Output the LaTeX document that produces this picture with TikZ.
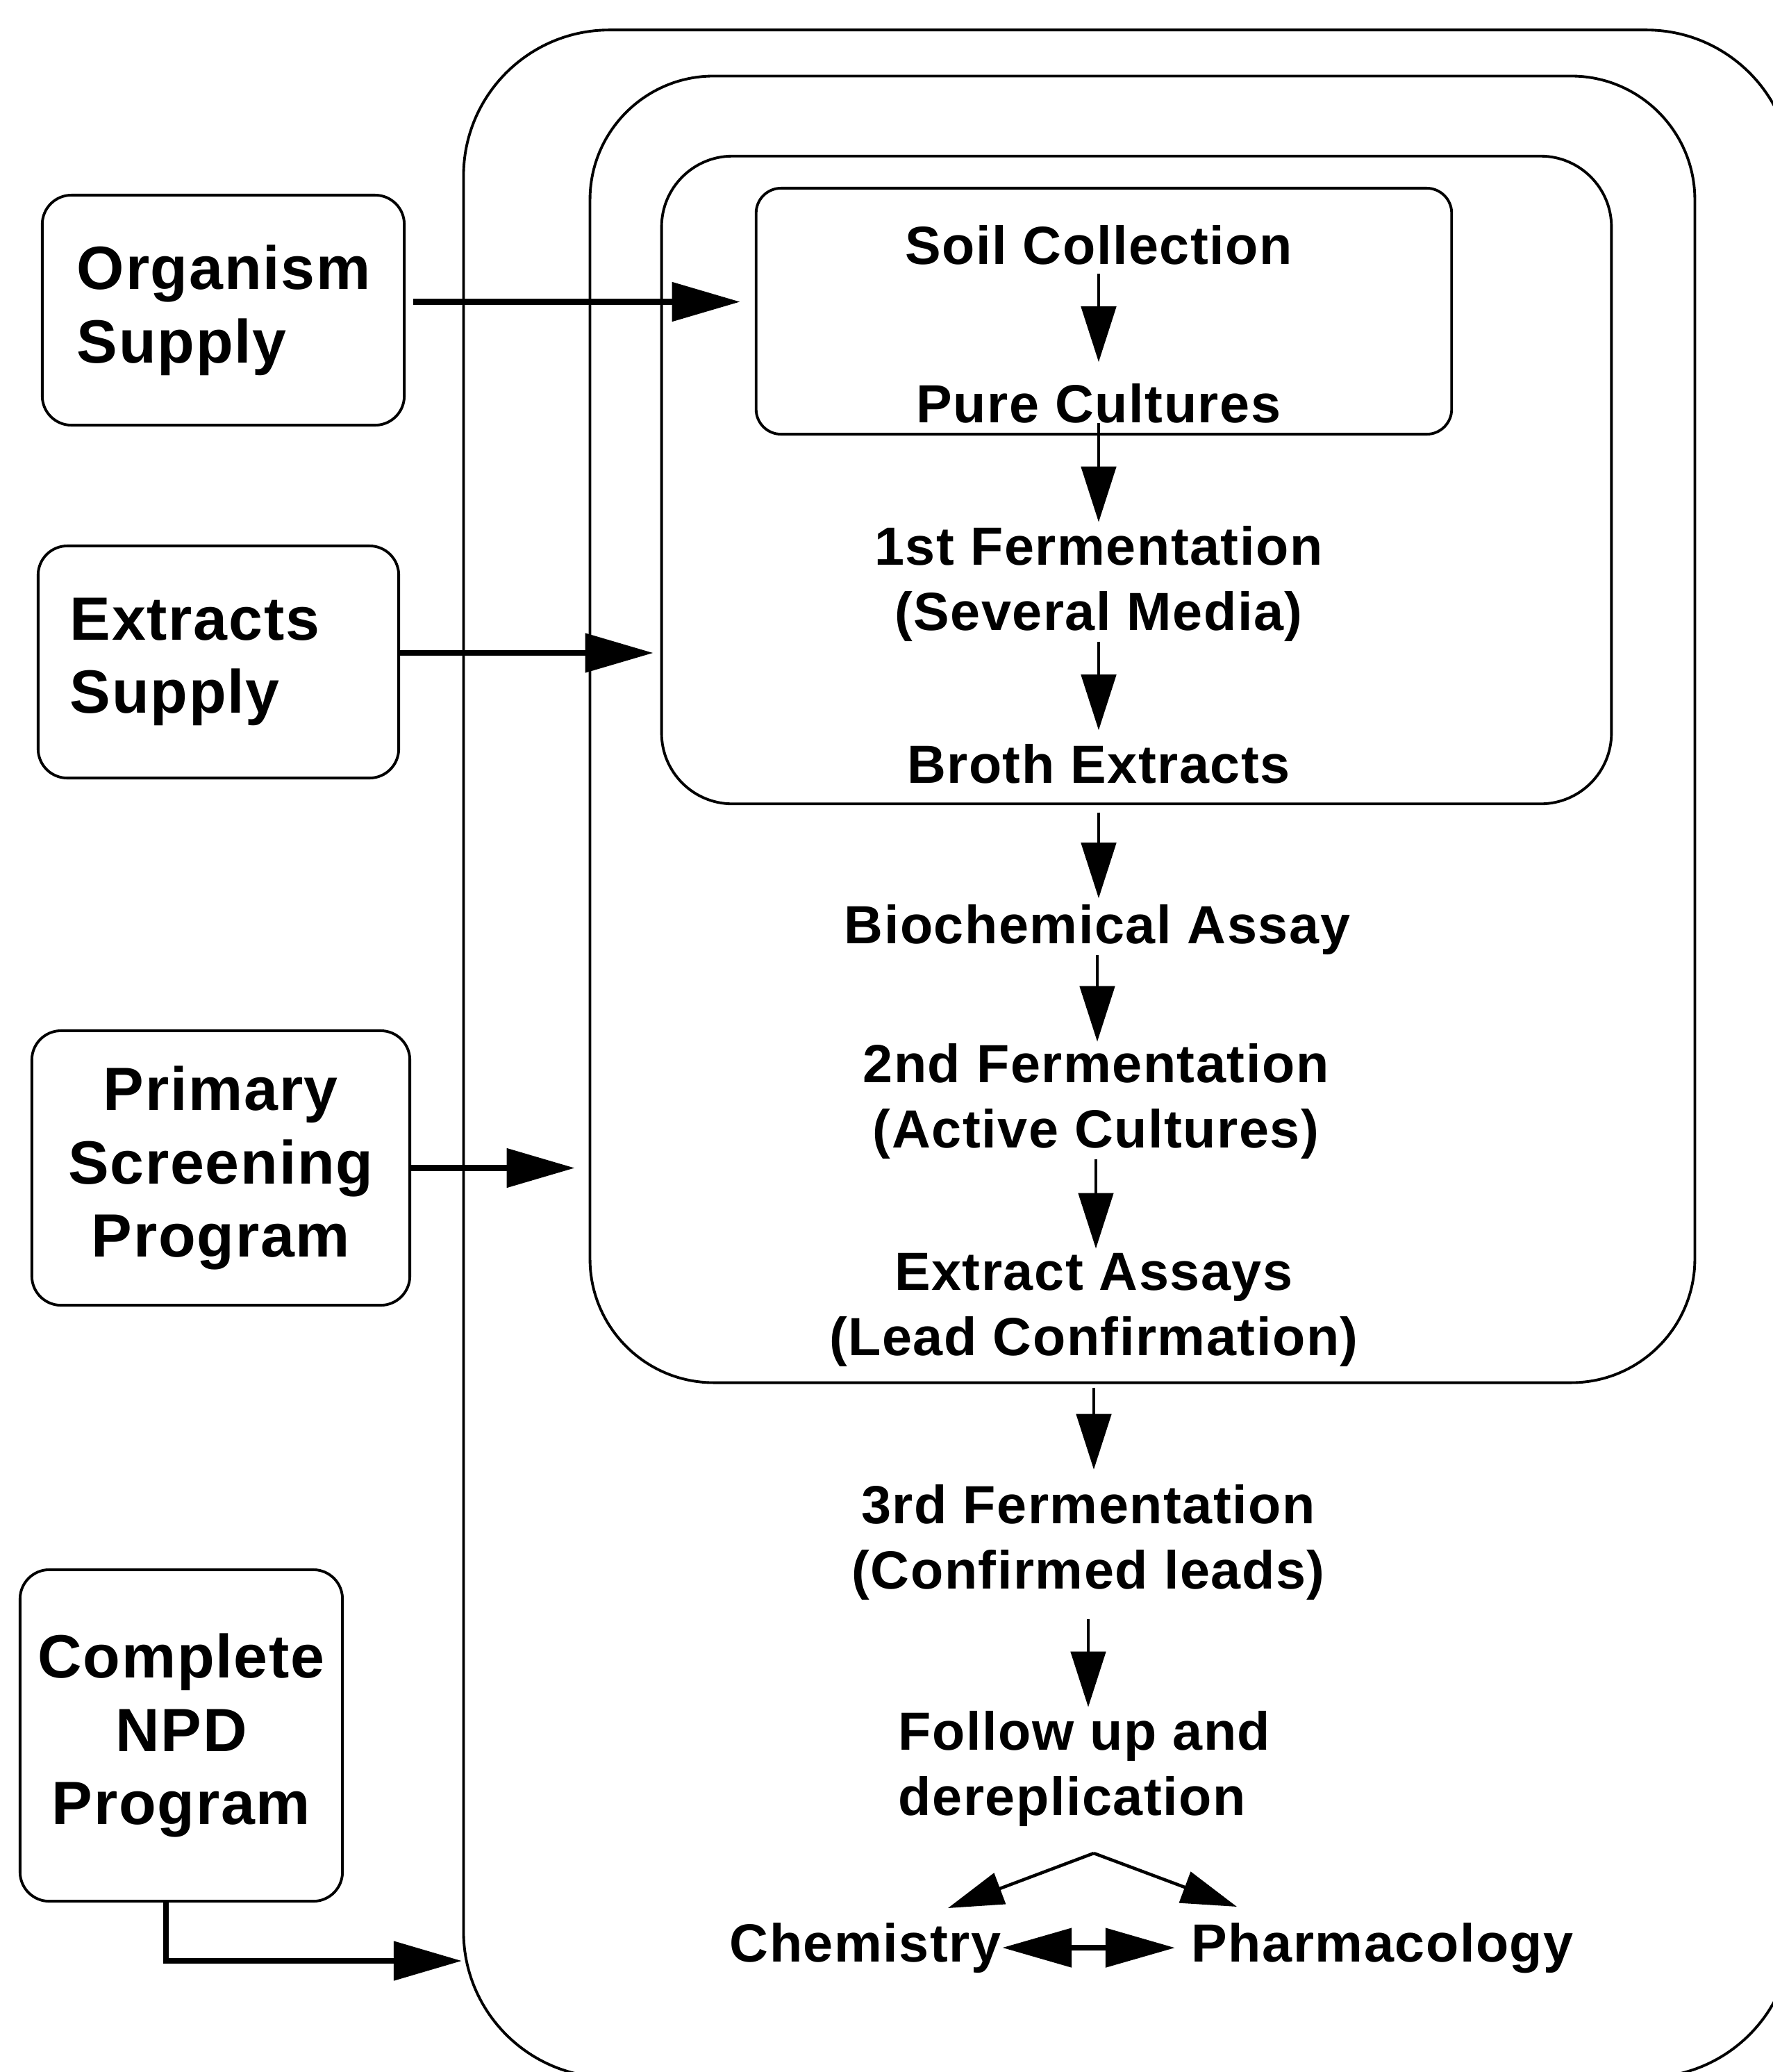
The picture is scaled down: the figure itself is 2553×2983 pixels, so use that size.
\documentclass[tikz,border=0pt]{standalone}
\usepackage{fontspec}
\setmainfont{Liberation Sans}[LetterSpace=2]
\usetikzlibrary{arrows.meta}
\begin{document}
\begin{tikzpicture}[x=0.01cm,y=-0.01cm,
  nest/.style={draw, line width=1.1pt, rounded corners=#1, inner sep=0pt},
  lbox/.style={draw, line width=1.1pt, rounded corners=0.42cm, inner ysep=0pt, font=\fontsize{25}{30}\selectfont\bfseries},
  ctext/.style={inner sep=0pt, anchor=base, align=center, font=\fontsize{22}{26.6}\selectfont\bfseries},
  carr/.style={line width=1.4pt, -{Triangle[length=0.8cm,width=0.5cm]}},
  tarr/.style={line width=2.3pt, -{Triangle[length=0.98cm,width=0.55cm]}},
  barr/.style={line width=1.3pt, -{Triangle[length=0.8cm,width=0.47cm]}},
  darr/.style={line width=2.3pt, {Triangle[length=1.0cm,width=0.55cm]}-{Triangle[length=1.0cm,width=0.55cm]}},
]
\useasboundingbox (0,0) rectangle (2553,2983);
\fill[white] (0,0) rectangle (2553,2983);
% nested containers
\begin{scope}
\clip (0,0) rectangle (2553,2983);
\node[nest=2.1cm, minimum width=19.12cm, minimum height=29.46cm] (outer) at (1624,1517) {};
\end{scope}
\node[nest=1.78cm, minimum width=15.9cm, minimum height=18.8cm] (mid) at (1645,1050) {};
\node[nest=1.02cm, minimum width=13.67cm, minimum height=9.32cm] (third) at (1636.5,691) {};
\node[nest=0.36cm, minimum width=10.01cm, minimum height=3.54cm] (inner) at (1589.5,448) {};
% left boxes
\node[lbox, align=left, text width=4.21cm, inner xsep=0.5cm, minimum height=3.31cm] (org) at (321.5,446.5) {Organism\\Supply};
\node[lbox, align=left, text width=4.27cm, inner xsep=0.46cm, minimum height=3.34cm] (ext) at (314.5,953) {Extracts\\Supply};
\node[lbox, align=center, minimum width=5.44cm, minimum height=3.95cm] (prim) at (318,1681.5) {Primary\\Screening\\Program};
\node[lbox, align=center, minimum width=4.64cm, minimum height=4.77cm] (npd) at (261,2498.5) {Complete\\NPD\\Program};
% centre texts (base = last line)
\node[ctext] (soil) at (1582,380) {Soil Collection};
\node[ctext] (pure) at (1582,608) {Pure Cultures};
\node[ctext] (ferm1) at (1582,907) {1st Fermentation\\(Several Media)};
\node[ctext] (broth) at (1582,1127) {Broth Extracts};
\node[ctext] (bio) at (1580,1358) {Biochemical Assay};
\node[ctext] (ferm2) at (1578,1652) {2nd Fermentation\\(Active Cultures)};
\node[ctext] (extr) at (1575,1951) {Extract Assays\\(Lead Confirmation)};
\node[ctext] (ferm3) at (1567,2287) {3rd Fermentation\\(Confirmed leads)};
\node[ctext, anchor=base west, align=left] (follow) at (1293,2613) {Follow up and\\dereplication};
\node[ctext, anchor=base west] (chem) at (1050,2824) {Chemistry};
\node[ctext, anchor=base west] (pharm) at (1715,2824) {Pharmacology};
% centre arrows
\draw[carr, shorten <=0.13cm, shorten >=0.30cm] (soil.south) -- (soil.south |- pure.north);
\draw[carr, shorten >=0.05cm] (pure.south) -- (pure.south |- ferm1.north);
\draw[carr, shorten >=0.19cm] (ferm1.south) -- (ferm1.south |- broth.north);
\draw[carr, shorten <=0.41cm, shorten >=0.08cm] (broth.south) -- (broth.south |- bio.north);
\draw[carr, shorten >=0.02cm] (bio.south) -- (bio.south |- ferm2.north);
\draw[carr, shorten >=0.06cm] (ferm2.south) -- (ferm2.south |- extr.north);
\draw[carr, shorten <=0.30cm, shorten >=0.21cm] (extr.south) -- (extr.south |- ferm3.north);
\draw[carr, shorten <=0.27cm, shorten >=0.05cm] (ferm3.south) -- (ferm3.south |- follow.north);
% branch
\coordinate (apex) at (1575,2668);
\coordinate (chemtip) at (1365,2747);
\coordinate (pharmtip) at (1781,2745);
\draw[barr] (apex) -- (chemtip);
\draw[barr] (apex) -- (pharmtip);
\draw[darr, shorten <=0.01cm, shorten >=0.23cm] (chem.east) -- (pharm.west);
% input arrows
\draw[tarr, shorten <=0.11cm, shorten >=0.21cm] ([yshift=0.12cm]org.east) -- ([yshift=0.12cm]org.east -| inner.west);
\draw[tarr, shorten >=0.10cm] ([yshift=0.13cm]ext.east) -- ([yshift=0.13cm]ext.east -| third.west);
\draw[tarr, shorten >=0.20cm] (prim.east) -- (prim.east -| mid.west);
\coordinate (npdin) at (665,2823);
\draw[tarr] ([xshift=-0.22cm]npd.south) |- (npdin);
\end{tikzpicture}
\end{document}
